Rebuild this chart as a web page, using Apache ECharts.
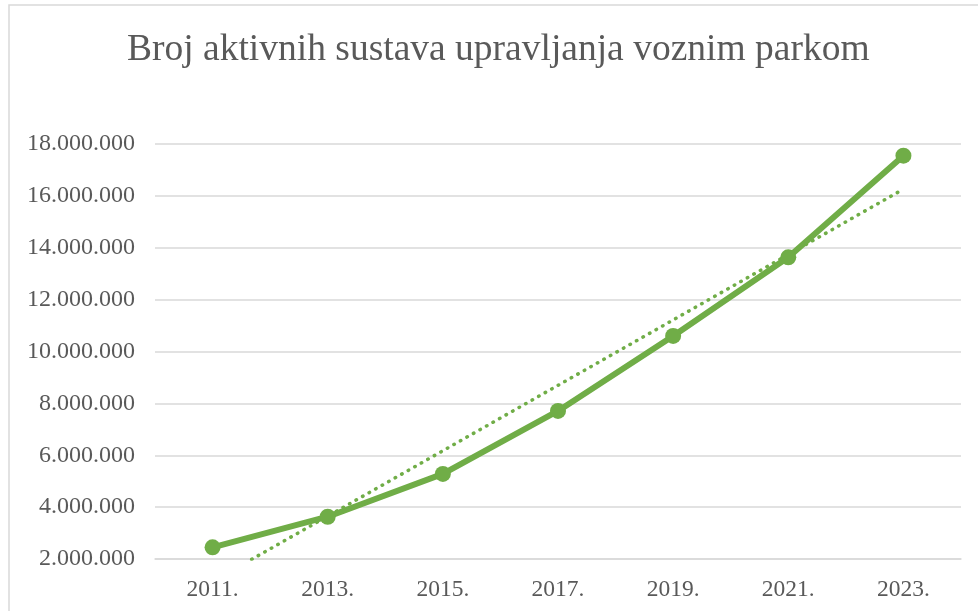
<!DOCTYPE html>
<html>
<head>
<meta charset="utf-8">
<script src="https://cdn.jsdelivr.net/npm/echarts@6/dist/echarts.min.js"></script>
<style>
  html, body { margin: 0; padding: 0; background: #fff; }
  #chart { width: 978px; height: 611px; }
</style>
</head>
<body>
<div id="chart"></div>
<script>
// godine (kategorije)
const years = ['2011.', '2013.', '2015.', '2017.', '2019.', '2021.', '2023.']
// broj aktivnih sustava, očitano sa slike
const activeSystems = [2450000, 3630000, 5280000, 7710000, 10600000, 13630000, 17550000]
// linearni trend: očitane krajnje vrijednosti (2011. i 2023.)
const trendValues = [1130000, null, null, null, null, null, 16260000]
// oznake osi y
const yMin = 2000000
const yMax = 18000000
const yStep = 2000000

const green = '#70AD47'
const textColor = '#595959'
const serif = '"Liberation Serif", "Times New Roman", serif'

function fmt(v) {
  return String(v).replace(/\B(?=(\d{3})+(?!\d))/g, '.')
}

const myChart = echarts.init(document.getElementById('chart'))
const option = {
  animation: false,
  graphic: [
    {
      type: 'rect',
      shape: { x: 9, y: 5, width: 1000, height: 700 },
      style: { fill: 'none', stroke: '#D9D9D9', lineWidth: 1.5 },
      silent: true
    }
  ],
  title: {
    text: 'Broj aktivnih sustava upravljanja voznim parkom',
    left: 122,
    top: 26,
    textStyle: {
      fontFamily: serif,
      fontSize: 37.5,
      fontWeight: 'normal',
      color: textColor
    }
  },
  grid: { left: 155, right: 17, top: 144, bottom: 52 },
  xAxis: {
    type: 'category',
    data: years,
    boundaryGap: true,
    axisLine: { show: true, lineStyle: { color: '#D9D9D9', width: 1.5 } },
    axisTick: { show: false },
    axisLabel: {
      margin: 19,
      fontFamily: serif,
      fontSize: 23.5,
      color: textColor
    }
  },
  yAxis: {
    type: 'value',
    min: yMin,
    max: yMax,
    interval: yStep,
    axisLine: { show: false },
    axisTick: { show: false },
    splitLine: { lineStyle: { color: '#D9D9D9', width: 1.5 } },
    axisLabel: {
      margin: 20,
      fontFamily: serif,
      fontSize: 24,
      color: textColor,
      formatter: v => fmt(v)
    }
  },
  series: [
    {
      name: 'Trend',
      type: 'line',
      data: trendValues,
      connectNulls: true,
      showSymbol: false,
      symbol: 'none',
      z: 1,
      lineStyle: { color: green, width: 3.5, type: [0.5, 7], cap: 'round' }
    },
    {
      name: 'Broj aktivnih sustava',
      type: 'line',
      data: activeSystems,
      symbol: 'circle',
      symbolSize: 16,
      z: 3,
      itemStyle: { color: green },
      lineStyle: { color: green, width: 6 }
    }
  ]
}
myChart.setOption(option)
</script>
</body>
</html>
